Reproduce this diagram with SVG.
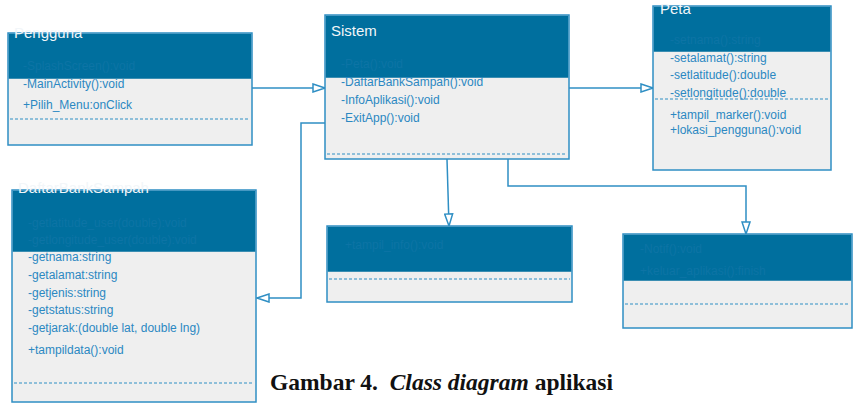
<svg xmlns="http://www.w3.org/2000/svg" width="854" height="407" viewBox="0 0 854 407">
<defs>
<style>
.box{fill:#efefef;stroke:#2f8fc4;stroke-width:1.5}
.hdr{fill:#006f9e}
.title{font-family:"Liberation Sans",Arial,sans-serif;font-size:15px;fill:#f2f6f9}
.t{font-family:"Liberation Sans",Arial,sans-serif;font-size:12px;fill:#2b88c2}
.h{font-family:"Liberation Sans",Arial,sans-serif;font-size:12px;fill:#0d74a5}
.dash{stroke:#2f8fc4;stroke-width:1;stroke-dasharray:3 2;fill:none}
.conn{fill:none;stroke:#2f8fc4;stroke-width:1.5}
.cap{font-family:"Liberation Serif","Times New Roman",serif;font-size:23.5px;font-weight:bold;fill:#111}
</style>
<marker id="tri" viewBox="0 0 14 10" refX="13" refY="5" markerWidth="14" markerHeight="10" markerUnits="userSpaceOnUse" orient="auto">
<path d="M1,1 L13,5 L1,9 Z" fill="#ffffff" stroke="#2f8fc4" stroke-width="1.5"/>
</marker>
</defs>
<rect width="854" height="407" fill="#ffffff"/>

<g id="connectors">
<path class="conn" d="M252,88 H325" marker-end="url(#tri)"/>
<path class="conn" d="M569,88 H653" marker-end="url(#tri)"/>
<path class="conn" d="M325,123 H301 V298 H257" marker-end="url(#tri)"/>
<path class="conn" d="M447,159 L449,226" marker-end="url(#tri)"/>
<path class="conn" d="M508,159 V186 H746 V234" marker-end="url(#tri)"/>
</g>

<g id="pengguna">
<rect class="box" x="8" y="33" width="244" height="112"/>
<rect class="hdr" x="8.75" y="33.75" width="242.5" height="45"/>
<text class="title" x="14" y="38">Pengguna</text>
<text class="h" x="23" y="70">-SplashScreen():void</text>
<text class="t" x="23" y="88">-MainActivity():void</text>
<text class="t" x="23" y="109">+Pilih_Menu:onClick</text>
<line class="dash" x1="10" y1="119" x2="250" y2="119"/>
</g>

<g id="sistem">
<rect class="box" x="325" y="15" width="244" height="144"/>
<rect class="hdr" x="325.75" y="15.75" width="242.5" height="62"/>
<text class="title" x="331" y="36">Sistem</text>
<text class="h" x="341" y="68">-Peta():void</text>
<text class="t" x="341" y="86">-DaftarBankSampah():void</text>
<text class="t" x="341" y="104">-InfoAplikasi():void</text>
<text class="t" x="341" y="122">-ExitApp():void</text>
<line class="dash" x1="327" y1="154" x2="567" y2="154"/>
</g>

<g id="peta">
<rect class="box" x="653" y="6" width="178" height="164"/>
<rect class="hdr" x="653.75" y="6.75" width="176.5" height="45"/>
<text class="title" x="660" y="14">Peta</text>
<text class="h" x="670" y="44">-setnama():string</text>
<text class="t" x="670" y="62">-setalamat():string</text>
<text class="t" x="670" y="79">-setlatitude():double</text>
<text class="t" x="670" y="97">-setlongitude():double</text>
<line class="dash" x1="655" y1="99" x2="829" y2="99"/>
<text class="t" x="670" y="119">+tampil_marker():void</text>
<text class="t" x="670" y="134">+lokasi_pengguna():void</text>
</g>

<g id="daftarbanksampah">
<rect class="box" x="12" y="190" width="244" height="212"/>
<rect class="hdr" x="12.75" y="190.75" width="242.5" height="61"/>
<text class="title" x="18" y="193">DaftarBankSampah</text>
<text class="h" x="28" y="227">-getlatitude_user(double):void</text>
<text class="h" x="28" y="244">-getlongitude_user(double):void</text>
<text class="t" x="28" y="261">-getnama:string</text>
<text class="t" x="28" y="279">-getalamat:string</text>
<text class="t" x="28" y="297">-getjenis:string</text>
<text class="t" x="28" y="314">-getstatus:string</text>
<text class="t" x="28" y="332">-getjarak:(double lat, double lng)</text>
<text class="t" x="28" y="354">+tampildata():void</text>
<line class="dash" x1="14" y1="383" x2="254" y2="383"/>
</g>

<g id="infoaplikasi">
<rect class="box" x="327" y="226" width="245" height="76"/>
<rect class="hdr" x="327.75" y="226.75" width="243.5" height="45"/>
<text class="h" x="345" y="249">+tampil_info():void</text>
<line class="dash" x1="329" y1="279" x2="570" y2="279"/>
</g>

<g id="exitapp">
<rect class="box" x="623" y="234" width="229" height="94"/>
<rect class="hdr" x="623.75" y="234.75" width="227.5" height="46"/>
<text class="h" x="640" y="253">-Notif():void</text>
<text class="h" x="640" y="275">+keluar_aplikasi():finish</text>
<line class="dash" x1="625" y1="304" x2="850" y2="304"/>
</g>

<text class="cap" x="270" y="390" xml:space="preserve">Gambar 4.  <tspan font-style="italic">Class diagram</tspan> aplikasi</text>
</svg>
